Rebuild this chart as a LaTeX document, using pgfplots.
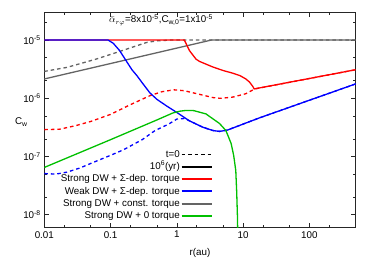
\documentclass[border=0pt]{standalone}
\usepackage{fontspec}
\setmainfont{Liberation Sans}
\usepackage{pgfplots}
\pgfplotsset{compat=1.18}
\definecolor{cred}{RGB}{255,0,0}
\definecolor{cblue}{RGB}{0,0,255}
\definecolor{cgrey}{RGB}{100,100,100}
\definecolor{cgreen}{RGB}{0,192,0}
\begin{document}
\begin{tikzpicture}
\useasboundingbox (-44.3bp,-33.3bp) rectangle (329.7bp,227.7bp);
\begin{axis}[
  xmode=log, ymode=log,
  scale only axis, width=311.4bp, height=215.4bp,
  xmin=0.01, xmax=500, ymin=6e-9, ymax=3e-5,
  xtick={0.01,0.1,1,10,100}, xticklabels={0.01,0.1,1,10,100},
  minor xtick={0.02,0.05,0.2,0.5,2,5,20,50,200},
  ytick={1e-8,1e-7,1e-6,1e-5},
  yticklabels={10\textsuperscript{-8},10\textsuperscript{-7},10\textsuperscript{-6},10\textsuperscript{-5}},
  minor ytick={2e-8,5e-8,2e-7,5e-7,2e-6,5e-6,2e-5},
  major tick length=4.5bp, minor tick length=2.5bp,
  tick align=inside,
  axis line style={line width=0.8bp, black!85},
  tick style={line width=0.6bp, black!85},
  ticklabel style={font=\fontsize{9.8bp}{11bp}\selectfont},
  label style={font=\fontsize{9.8bp}{11bp}\selectfont},
  xlabel={r(au)}, ylabel={C\textsubscript{w}},
  xlabel style={at={(rel axis cs:0.5,0)}, anchor=center, yshift=-25.3bp},
  ylabel style={at={(rel axis cs:0,0.49)}, rotate=-90, anchor=center, xshift=-23bp},
  legend plot pos=right,
  legend cell align=right,
  legend image code/.code={\draw[#1] (0bp,0bp) -- (30bp,0bp);},
  legend style={at={(rel axis cs:0.541,0.025)}, anchor=south east, draw=none, fill=none,
    row sep=0pt, inner sep=0pt, font=\fontsize{9.8bp}{11bp}\selectfont,
    nodes={inner sep=1bp, text height=7.8bp, text depth=2.5bp}},
  every axis plot/.append style={line width=1.3bp},
]
\addlegendimage{black, line width=1.8bp, dash pattern=on 3.5bp off 3bp}
\addlegendentry{t=0}
\addlegendimage{black, line width=1.8bp}
\addlegendentry{10\textsuperscript{6}(yr)}
\addlegendimage{cred, line width=1.8bp}
\addlegendentry{Strong DW + Σ-dep. torque}
\addlegendimage{cblue, line width=1.8bp}
\addlegendentry{Weak DW + Σ-dep. torque}
\addlegendimage{cgrey, line width=1.8bp}
\addlegendentry{Strong DW + const. torque}
\addlegendimage{cgreen, line width=1.8bp}
\addlegendentry{Strong DW + 0 torque}

% grey dashed (t=0)
\addplot[cgrey, dash pattern=on 3.5bp off 3bp, forget plot] coordinates {
(0.01,2.9e-6) (0.022,3.4e-6) (0.06,4.7e-6) (0.15,6.6e-6) (0.35,9.1e-6) (0.5,9.7e-6) (0.8,1e-5) (500,1e-5)};
% grey solid
\addplot[cgrey, forget plot] coordinates {(0.01,2.15e-6) (3.3,1e-5) (500,1e-5)};
% red dashed
\addplot[cred, dash pattern=on 3.5bp off 3bp, forget plot] coordinates {
(0.01,2.9e-7) (0.017,2.95e-7) (0.03,3.4e-7) (0.05,4.0e-7) (0.1,5.3e-7) (0.2,7.8e-7)
(0.4,1.12e-6) (0.6,1.3e-6) (0.9,1.4e-6) (1.3,1.35e-6) (2.2,1.17e-6) (3.5,1.03e-6)
(4.6,1.0e-6) (7,1.05e-6) (11,1.2e-6) (15,1.45e-6) (500,3.1e-6)};
% red solid
\addplot[cred, forget plot] coordinates {
(0.01,1e-5) (1.3,1e-5) (1.55,6.6e-6) (1.95,4.7e-6) (2.2,4.3e-6) (3.5,3.45e-6) (5,3.0e-6)
(7,2.7e-6) (9,2.45e-6) (11,2.15e-6) (12.5,1.9e-6) (14,1.6e-6) (14.7,1.45e-6) (500,3.1e-6)};
% blue dashed
\addplot[cblue, dash pattern=on 3.5bp off 3bp, forget plot] coordinates {
(0.01,5.1e-8) (0.015,5.0e-8) (0.022,5.4e-8) (0.035,6.4e-8) (0.05,7.6e-8) (0.1,1.05e-7)
(0.155,1.3e-7) (0.3,1.95e-7) (0.47,2.8e-7) (0.75,3.6e-7) (1.0,4.4e-7) (1.3,4.5e-7)
(1.6,4.05e-7) (2.45,3.2e-7) (3.5,2.8e-7) (4.4,2.7e-7) (5.8,2.85e-7) (17.5,4.6e-7) (500,1.77e-6)};
% blue solid
\addplot[cblue, forget plot] coordinates {
(0.01,1e-5) (0.092,1e-5) (0.11,8.8e-6) (0.137,6.6e-6) (0.17,4.5e-6) (0.21,3.1e-6)
(0.25,2.45e-6) (0.3,1.85e-6) (0.39,1.25e-6) (0.5,9.6e-7) (0.7,7.4e-7) (0.98,5.8e-7)
(1.55,4.1e-7) (2.45,3.2e-7) (3.5,2.8e-7) (4.4,2.7e-7) (5.8,2.85e-7) (17.5,4.6e-7) (500,1.77e-6)};
% green solid
\addplot[cgreen, forget plot] coordinates {
(0.01,6.5e-8) (0.1,1.95e-7) (0.5,4.25e-7) (0.87,5.6e-7) (1.1,6.0e-7) (1.38,6.2e-7)
(1.8,6.15e-7) (2.75,5.4e-7) (4.4,3.7e-7) (5.5,2.8e-7) (6.6,1.67e-7) (7.2,1.05e-7)
(7.75,5.8e-8) (8.0,2.5e-8) (8.2,1e-8) (8.3,5e-9)};

\node[font=\fontsize{9.8bp}{11bp}\selectfont] at (rel axis cs:0.375,0.964)
  {$\bar{\alpha}_{r\varphi}$=8x10\textsuperscript{-5},C\textsubscript{w,0}=1x10\textsuperscript{-5}};
\end{axis}
\end{tikzpicture}
\end{document}
